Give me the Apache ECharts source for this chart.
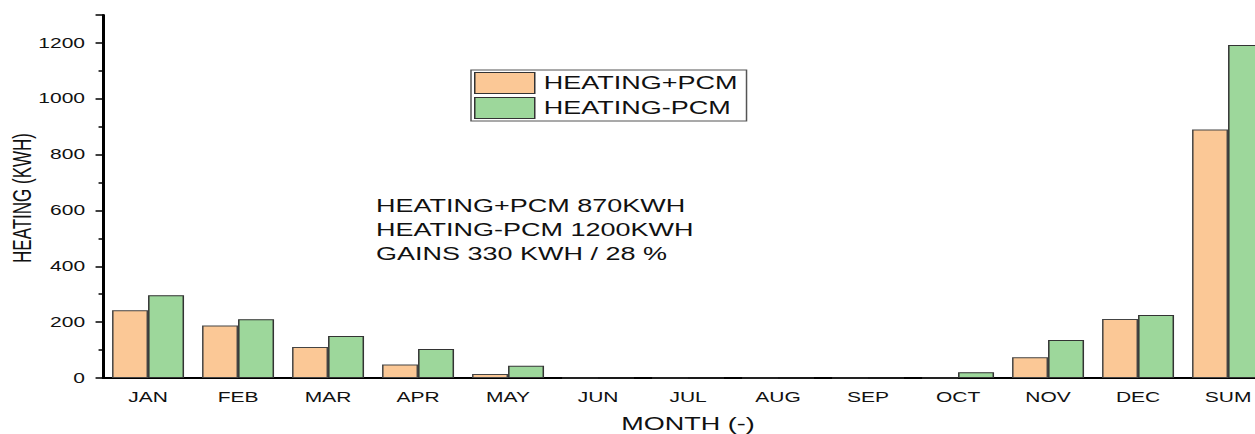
<!DOCTYPE html>
<html><head><meta charset="utf-8">
<script src="https://cdn.jsdelivr.net/npm/echarts@6/dist/echarts.min.js"></script>
<style>html,body{margin:0;padding:0;background:#fff;overflow:hidden}
#wrap{width:1255px;height:434px;overflow:hidden}
#c{width:837px;height:434px;transform:scaleX(1.5);transform-origin:0 0}</style>
</head><body><div id="wrap"><div id="c"></div></div>
<script>
const categories = ['JAN','FEB','MAR','APR','MAY','JUN','JUL','AUG','SEP','OCT','NOV','DEC','SUM'];
const heatingPlusPCM = [243, 188, 111, 48, 14, 0, 0, 0, 0, 0, 74, 211, 890];
const heatingMinusPCM = [296, 210, 150, 104, 44, 0, 0, 0, 0, 21, 136, 226, 1193];
const seriesNames = ['HEATING+PCM', 'HEATING-PCM'];
const noteLines = ['HEATING+PCM 870KWH', 'HEATING-PCM 1200KWH', 'GAINS 330 KWH / 28 %'];
const yTitle = 'HEATING (KWH)';

const font = 'Liberation Sans, Arial, sans-serif';
const chart = echarts.init(document.getElementById('c'), null, { renderer: 'svg' });
chart.setOption({
  animation: false,
  backgroundColor: '#fff',
  grid: { left: 68.7, right: -11.7, top: 15, bottom: 56, outerBoundsMode: 'none', containLabel: false },
  legend: {
    left: 314, top: 70, orient: 'vertical', icon: 'rect',
    itemWidth: 40, itemHeight: 21, itemGap: 3,
    padding: [2, 6, 2, 2],
    borderColor: '#555', borderWidth: 1,
    itemStyle: { borderColor: '#333', borderWidth: 1 },
    textStyle: { fontFamily: font, fontSize: 18, color: '#111', padding: [0, 0, 0, 1] },
    data: seriesNames
  },
  xAxis: [{
    type: 'category', data: categories,
    name: 'MONTH (-)', nameLocation: 'middle', nameGap: 37,
    nameTextStyle: { fontFamily: font, fontSize: 18, color: '#111' },
    axisLine: { lineStyle: { color: '#000', width: 2 } },
    axisTick: { alignWithLabel: true, length: 6, lineStyle: { color: '#000', width: 2 } },
    axisLabel: { fontFamily: font, fontSize: 14, color: '#111', margin: 12 }
  }, {
    type: 'category', data: categories, position: 'bottom',
    axisLine: { show: false },
    axisTick: { length: 3, lineStyle: { color: '#000', width: 2 } },
    axisLabel: { show: false }
  }],
  yAxis: {
    type: 'value', min: 0, max: 1300, interval: 200,
    axisLine: { show: true, lineStyle: { color: '#000', width: 2 } },
    axisTick: { show: true, length: 5, lineStyle: { color: '#000', width: 1.5 } },
    minorTick: { show: true, splitNumber: 2, length: 3, lineStyle: { color: '#000', width: 1.5 } },
    splitLine: { show: false },
    axisLabel: { fontFamily: font, fontSize: 14, color: '#111', margin: 12,
      formatter: v => v === 1300 ? '' : v }
  },
  series: [{
    name: seriesNames[0], type: 'bar', data: heatingPlusPCM,
    barWidth: 24, barGap: '0%',
    itemStyle: { color: '#FBC896', borderColor: '#444', borderWidth: 1 }
  }, {
    name: seriesNames[1], type: 'bar', data: heatingMinusPCM,
    barWidth: 24, barGap: '0%',
    itemStyle: { color: '#9DD79B', borderColor: '#333', borderWidth: 1 }
  }],
  graphic: [{
    type: 'text', left: 250.7, top: 194,
    style: { text: noteLines.join('\n'), fontFamily: font, fontSize: 18, lineHeight: 24, fill: '#111' }
  }, {
    type: 'text', x: 15, y: 198, rotation: Math.PI / 2,
    style: { text: yTitle, fontFamily: font, fontSize: 17, fill: '#111', align: 'center', verticalAlign: 'middle' }
  }]
});
</script></body></html>
